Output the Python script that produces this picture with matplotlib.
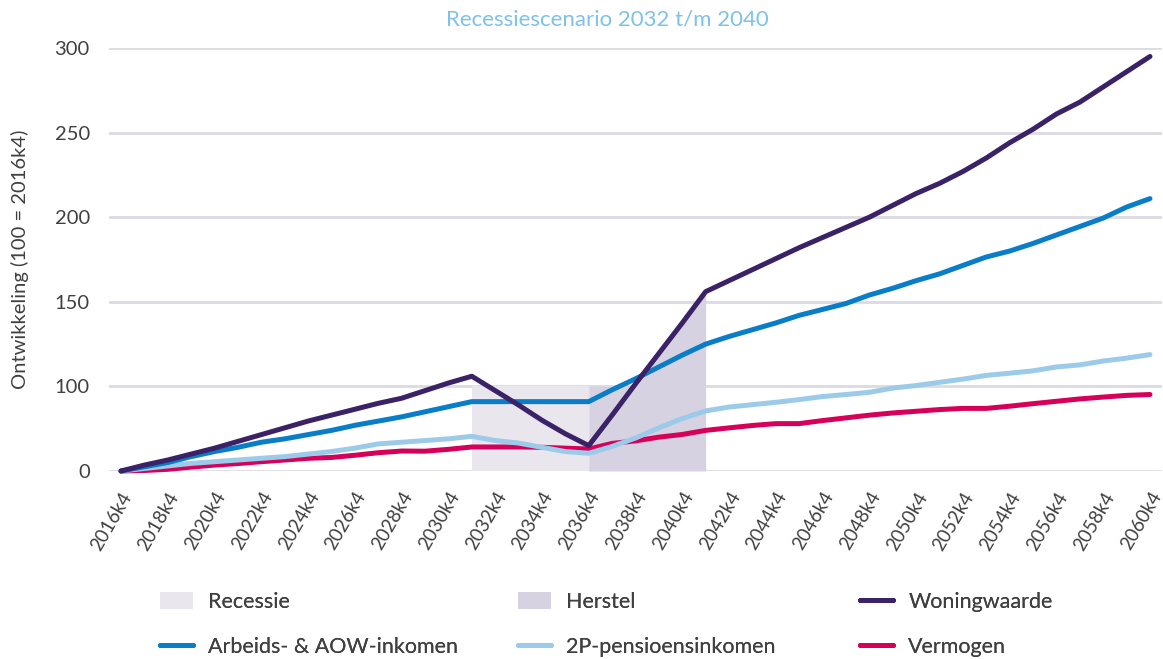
import numpy as np
import matplotlib
matplotlib.use("Agg")
import matplotlib.pyplot as plt
from matplotlib.transforms import ScaledTranslation

# ---------------- data ----------------
years = list(range(2016, 2061))
categories = [f"{y}k4" for y in years]

woningwaarde = [50, 53.5, 56.5, 60, 63.5, 67.5, 71.5, 75.5, 79.5, 83, 86.5, 90, 93, 97.5, 102,
                106, 97.5, 89, 80, 72, 65, 83, 101.5, 119.5, 137.5, 156,
                162.5, 169, 175.5, 182, 188, 194, 200, 207, 214, 220, 227, 235, 244, 252,
                261, 268, 277, 286, 295]
arbeids = [50, 52.5, 55, 58.5, 61.5, 64, 67, 69, 71.5, 74, 77, 79.5, 82, 85, 88,
           91, 91, 91, 91, 91, 91, 98, 104.5, 111.5, 118.5, 125,
           129.5, 133.5, 137.5, 142, 145.5, 149, 154, 158, 162.5, 166.5, 171.5, 176.5, 180,
           184.5, 189.5, 194.5, 199.5, 206, 211]
pensioen = [50, 51.5, 53, 54.5, 55.5, 56.5, 57.5, 58.5, 60, 61.5, 63.5, 66, 67, 68, 69,
            70.5, 68, 66.5, 64, 61.5, 60.5, 64.5, 69.5, 75.5, 81, 85.5,
            87.8, 89.2, 90.6, 92.2, 94, 95.2, 96.5, 99, 100.5, 102.4, 104.3, 106.5, 107.8,
            109.2, 111.5, 112.7, 115, 116.7, 118.8]
vermogen = [50, 50.3, 51, 52.3, 53.5, 54.4, 55.5, 56.5, 57.5, 58, 59.3, 60.8, 61.8, 61.7, 62.8,
            64.2, 64.2, 64.2, 64, 63.5, 63, 66.3, 67.8, 70, 71.6, 74,
            75.5, 76.9, 78, 78, 79.8, 81.4, 83, 84.3, 85.3, 86.3, 87, 87, 88.3, 89.8,
            91.2, 92.6, 93.7, 94.7, 95.2]

recessie_years = ["2031k4", "2032k4", "2033k4", "2034k4", "2035k4", "2036k4"]
recessie_top = [100, 100, 100, 100, 100, 100]
herstel_years = ["2036k4", "2037k4", "2038k4", "2039k4", "2040k4", "2041k4"]
herstel_top = [100, 100, 101.5, 119.5, 137.5, 156]

ytick_values = [50, 100, 150, 200, 250, 300]
ytick_labels = ["0", "100", "150", "200", "250", "300"]

title = "Recessiescenario 2032 t/m 2040"
ylabel = "Ontwikkeling (100 = 2016k4)"

# ---------------- style ----------------
plt.rcParams["font.family"] = ["Lato", "DejaVu Sans"]
TXT = "#404040"
C_WON = "#3b2166"
C_ARB = "#0a7dc8"
C_PEN = "#9ccbea"
C_VER = "#d6005b"
C_REC = "#e9e6ee"
C_HER = "#d6d2e1"
GRID = "#dcdae3"

W, H = 1163, 659
fig = plt.figure(figsize=(W / 100, H / 100), dpi=100)
ax = fig.add_axes([109.3 / W, 1 - 471 / H, (1161.7 - 109.3) / W, (471 - 48) / H])

x = np.arange(len(categories))
idx = {c: i for i, c in enumerate(categories)}

rx = [idx[c] for c in recessie_years]
hx = [idx[c] for c in herstel_years]
base = ytick_values[0]
ax.fill_between(rx, base, recessie_top, color=C_REC, lw=0, zorder=1, label="Recessie")
ax.fill_between(hx, base, herstel_top, color=C_HER, lw=0, zorder=1, label="Herstel")

lw = 3.6
common = dict(lw=lw, solid_capstyle="round", solid_joinstyle="round", clip_on=False)
ax.plot(x, vermogen, color=C_VER, zorder=3, label="Vermogen", **common)
ax.plot(x, pensioen, color=C_PEN, zorder=3, label="2P-pensioensinkomen", **common)
ax.plot(x, arbeids, color=C_ARB, zorder=4, label="Arbeids- & AOW-inkomen", **common)
ax.plot(x, woningwaarde, color=C_WON, zorder=5, label="Woningwaarde", **common)

ax.set_xlim(-0.5, len(categories) - 0.5)
ax.set_ylim(ytick_values[0], ytick_values[-1])
ax.set_yticks(ytick_values)
ax.set_yticklabels(ytick_labels)
ax.set_xticks(x[::2])
ax.set_xticklabels(categories[::2])

for s in ax.spines.values():
    s.set_visible(False)
ax.set_axisbelow(True)
ax.grid(axis="y", color=GRID, lw=2.0, zorder=0)
ax.grid(axis="x", visible=False)

ax.tick_params(axis="y", length=0, pad=14, labelsize=14.5, labelcolor=TXT)
ax.tick_params(axis="x", length=0, pad=13, labelsize=13.5, labelcolor=TXT)
off = ScaledTranslation(-0.005, 0, fig.dpi_scale_trans)
for lab in ax.get_xticklabels():
    lab.set_rotation(60)
    lab.set_ha("right")
    lab.set_va("top")
    lab.set_rotation_mode("anchor")
    lab.set_transform(lab.get_transform() + off)

ax.set_ylabel(ylabel, fontsize=14.5, color=TXT)
ax.yaxis.set_label_coords(-0.076, 0.5)

fig.text(607 / W, 1 - 20 / H, title, ha="center", va="center", fontsize=16,
         color="#7fc1e8")

# ---------------- legend (3 columns) ----------------
handles = {h.get_label(): h for h in ax.collections + ax.lines}
cols = [(["Recessie", "Arbeids- & AOW-inkomen"], 160),
        (["Herstel", "2P-pensioensinkomen"], 518),
        (["Woningwaarde", "Vermogen"], 860)]
for labels, xpix in cols:
    leg = fig.legend([handles[l] for l in labels], labels, loc="upper left",
                     bbox_to_anchor=(xpix / W, 1 - 592 / H), frameon=False,
                     borderpad=0, borderaxespad=0, handlelength=1.55, handleheight=0.85,
                     handletextpad=0.7, labelspacing=1.18, fontsize=15.5)
    for t in leg.get_texts():
        t.set_color(TXT)
    fig.add_artist(leg)

fig.savefig("out.png", dpi=100)
